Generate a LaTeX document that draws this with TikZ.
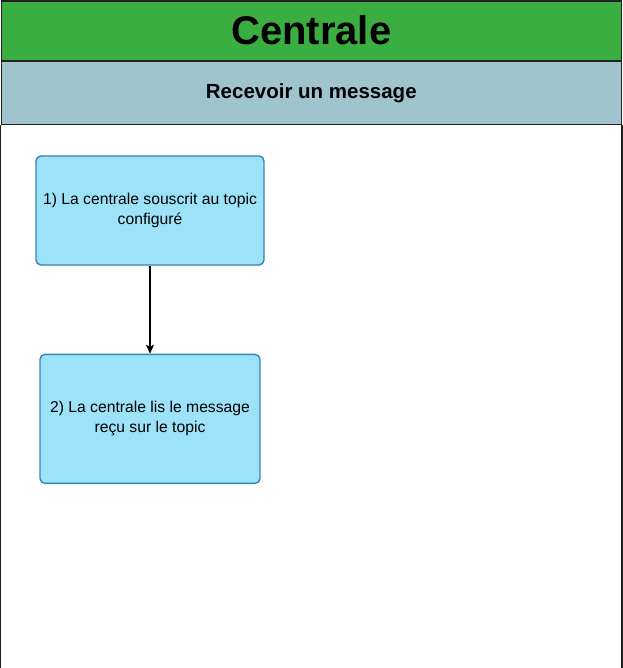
\documentclass[tikz,border=0pt]{standalone}
\usepackage{fontspec}
\setmainfont{Liberation Sans}
\usetikzlibrary{positioning,arrows.meta}
\definecolor{poolgreen}{RGB}{59,174,66}
\definecolor{lanegrey}{RGB}{160,196,206}
\definecolor{boxfill}{RGB}{156,226,248}
\definecolor{boxline}{RGB}{48,136,176}
\definecolor{frame}{RGB}{34,34,34}
\begin{document}
\begin{tikzpicture}[
    x=1pt, y=-1pt,
    band/.style={rectangle, draw=frame, line width=1.3pt, minimum width=620pt, inner sep=0pt, anchor=north west},
    stepbox/.style={rectangle, rounded corners=5pt, draw=boxline, fill=boxfill, line width=1.4pt, align=center, inner sep=0pt, font=\fontsize{15.7}{20}\selectfont},
    arrow/.style={-{Stealth[length=9pt,width=8pt,inset=2pt]}, line width=1.2pt}
]
\useasboundingbox (0,0) rectangle (622,668);

% Pool header and lane
\node[band, fill=poolgreen, minimum height=59.4pt, font=\bfseries\fontsize{40}{48}\selectfont] (pool) at (0.65,0.3) {Centrale};
\node[band, fill=lanegrey, minimum height=63pt, font=\bfseries\fontsize{20.5}{24}\selectfont] (lane) at (pool.south west) {Recevoir un message};
\draw[draw=frame, line width=1.3pt] (lane.south west) -- ++(0,600) -| (lane.south east);

% Steps
\node[stepbox, minimum width=228pt, minimum height=109pt] (s1) at (150,210.5) {1) La centrale souscrit au topic\\configuré};
\node[stepbox, minimum width=220pt, minimum height=129pt, below=88pt of s1] (s2) {2) La centrale lis le message\\reçu sur le topic};

\draw[arrow] (s1) -- (s2);

\end{tikzpicture}
\end{document}
